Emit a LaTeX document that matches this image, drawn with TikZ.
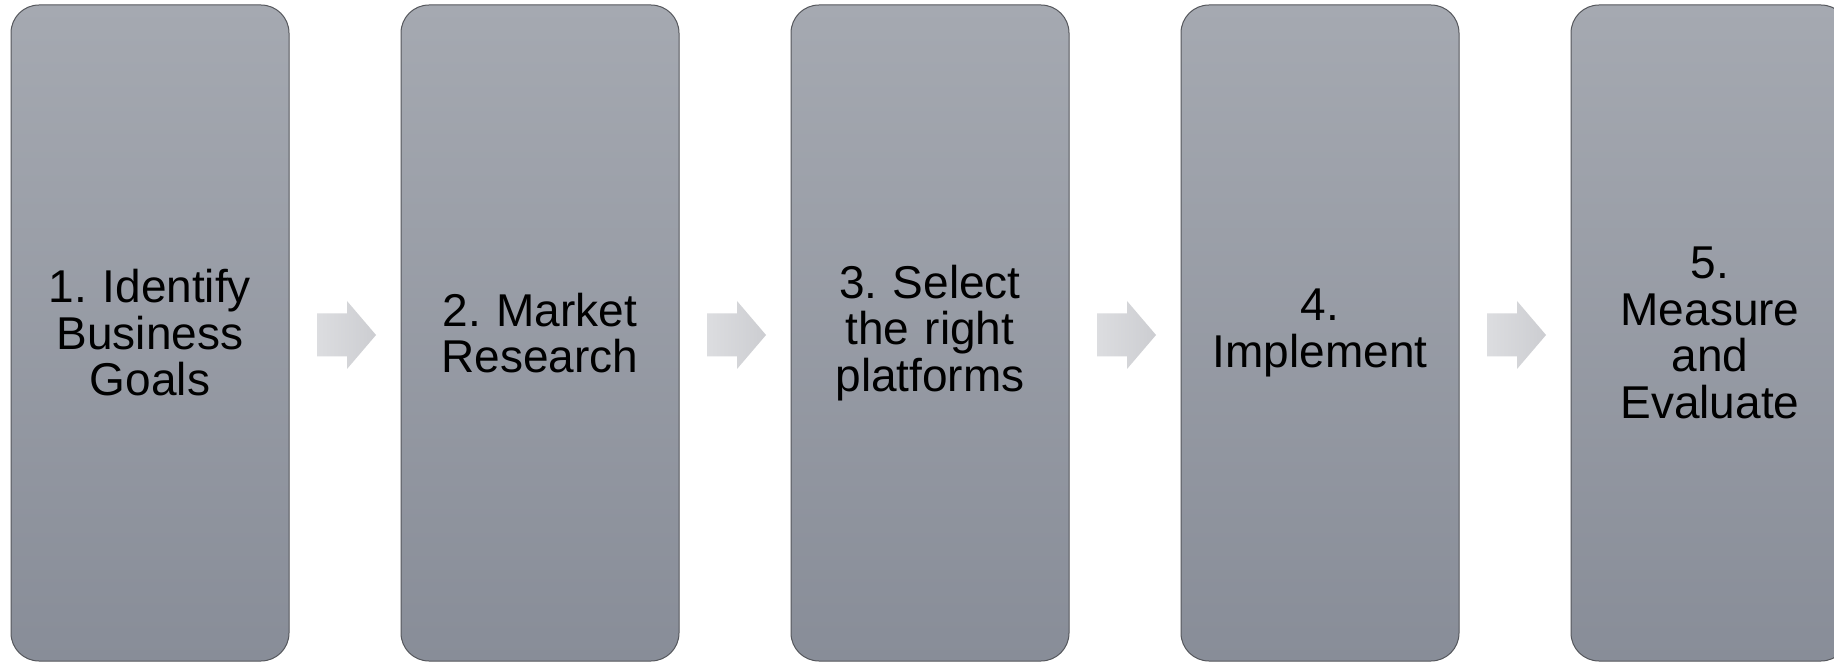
\documentclass[tikz,border=0pt]{standalone}
\usepackage{fontspec}
\setmainfont{Liberation Sans}
\usetikzlibrary{calc}
\definecolor{boxtop}{HTML}{A5A9B1}
\definecolor{boxbot}{HTML}{888D98}
\definecolor{boxline}{HTML}{55575C}
\definecolor{arrowl}{HTML}{DCDDE0}
\definecolor{arrowr}{HTML}{CCCDD1}
\tikzset{
  stepbox/.style={draw=boxline, line width=1pt, rounded corners=28pt,
    top color=boxtop, bottom color=boxbot,
    minimum width=278pt, minimum height=656pt, inner sep=0pt,
    text width=266pt, align=center,
    font=\fontsize{46}{46.5}\selectfont\frenchspacing},
  flowarrow/.style={left color=arrowl, right color=arrowr, draw=none}
}
\begin{document}
\begin{tikzpicture}[x=1pt,y=1pt]
\useasboundingbox (0,0) rectangle (1834,662);
\clip (0,0) rectangle (1834,662);
\fill[white] (0,0) rectangle (1834,662);
\node[stepbox] (b1) at (150,329) {1. Identify\\Business\\Goals};
\node[stepbox] (b2) at (540,329) {2. Market\\Research};
\node[stepbox] (b3) at (930,329) {3. Select\\the right\\platforms};
\node[stepbox] (b4) at (1320,329) {4.\\Implement};
\node[stepbox] (b5) at (1710,329) {5.\\Measure\\and\\Evaluate};
\foreach \a/\b in {b1/b2,b2/b3,b3/b4,b4/b5}{
  \coordinate (m\a) at ($(\a.east)!0.5!(\b.west)+(1.5,-2)$);
  \path[flowarrow] ($(m\a)+(-29.5,-21.5)$) -- ($(m\a)+(0.5,-21.5)$) -- ($(m\a)+(0.5,-34)$)
    -- ($(m\a)+(29.5,0)$) -- ($(m\a)+(0.5,34)$) -- ($(m\a)+(0.5,21.5)$)
    -- ($(m\a)+(-29.5,21.5)$) -- cycle;
}
\end{tikzpicture}
\end{document}
